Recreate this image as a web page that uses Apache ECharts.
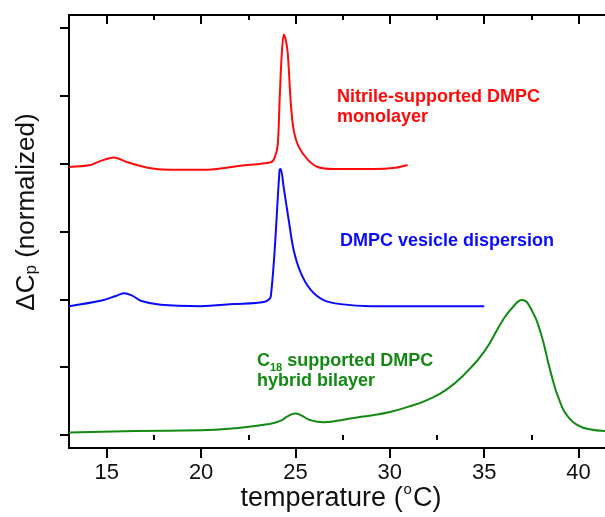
<!DOCTYPE html>
<html>
<head>
<meta charset="utf-8">
<script src="https://cdn.jsdelivr.net/npm/echarts@6/dist/echarts.min.js"></script>
<style>
  html, body { margin: 0; padding: 0; background: #fff; }
  #chart { width: 605px; height: 517px; }
</style>
</head>
<body>
<div id="chart"></div>
<script>
// DSC traces (temperature in °C, normalized ΔCp offset per trace)
const nitrileT  = [13.0, 14.15, 14.68, 15.37, 16.11, 17.17, 18.23, 20.35, 22.10, 23.69, 23.90, 24.06, 24.16, 24.27, 24.38, 24.48, 24.59, 24.75, 24.90, 25.17, 25.65, 26.18, 27.02, 29.14, 30.31, 30.94];
const nitrileCp = [3.95, 3.98, 4.04, 4.09, 4.02, 3.94, 3.91, 3.91, 3.97, 4.02, 4.09, 4.28, 4.94, 5.60, 5.90, 5.83, 5.63, 4.90, 4.50, 4.25, 4.06, 3.95, 3.92, 3.92, 3.94, 3.98];

const vesicleT  = [13.0, 14.68, 15.48, 15.90, 16.32, 16.80, 17.86, 19.98, 21.73, 23.32, 23.69, 24.16, 24.22, 24.37, 24.64, 24.90, 25.28, 25.81, 26.49, 27.39, 28.98, 35.0];
const vesicleCp = [1.90, 1.98, 2.05, 2.09, 2.06, 1.98, 1.92, 1.90, 1.93, 1.96, 2.04, 3.91, 3.92, 3.66, 3.17, 2.73, 2.39, 2.14, 1.99, 1.93, 1.90, 1.90];

const hybridT  = [13.0, 16.5, 20.0, 21.75, 23.5, 24.2, 24.6, 25.0, 25.3, 25.8, 26.5, 27.2, 28, 29, 30, 31, 32, 33, 34, 35, 36, 36.5, 37, 37.5, 38, 38.5, 39, 39.5, 40, 40.5, 41.4];
const hybridCp = [0.04, 0.06, 0.07, 0.10, 0.16, 0.21, 0.28, 0.32, 0.29, 0.22, 0.19, 0.21, 0.25, 0.29, 0.34, 0.42, 0.52, 0.67, 0.91, 1.23, 1.70, 1.88, 1.99, 1.85, 1.50, 0.95, 0.50, 0.25, 0.14, 0.09, 0.06];

// axis ticks
const xMajor = [15, 20, 25, 30, 35, 40];
const xMinor = [17.5, 22.5, 27.5, 32.5, 37.5];
const yTicks = [0, 1, 2, 3, 4, 5, 6];

const X_MIN = 13, X_MAX = 41.4;
const Y_MIN = -0.19, Y_MAX = 6.19;

function zip(a, b) { return a.map((v, i) => [v, b[i]]); }

const chart = echarts.init(document.getElementById('chart'));
const font = 'Liberation Sans, Arial, sans-serif';

function xAx(pos, ticks, len, inside, extra) {
  return Object.assign({
    type: 'value', position: pos, min: X_MIN, max: X_MAX,
    axisLine: { show: false },
    splitLine: { show: false },
    axisLabel: { show: false },
    axisTick: { show: true, inside: inside, length: len, customValues: ticks,
                lineStyle: { color: '#000', width: 2 } }
  }, extra || {});
}

chart.setOption({
  animation: false,
  grid: { left: 69, top: 15, right: 0, bottom: 69 },
  xAxis: [
    xAx('bottom', xMajor, 10, false, {
      axisLine: { show: true, onZero: false, lineStyle: { color: '#000', width: 2 } },
      axisLabel: { show: true, customValues: xMajor, margin: 14, color: '#111',
                   fontSize: 22, fontFamily: font }
    }),
    xAx('bottom', xMinor, 5, false),
    xAx('top', xMajor, 9, true, {
      axisLine: { show: true, onZero: false, lineStyle: { color: '#000', width: 2 } }
    }),
    xAx('top', xMinor, 5, true)
  ],
  yAxis: {
    type: 'value', min: Y_MIN, max: Y_MAX,
    axisLine: { show: true, onZero: false, lineStyle: { color: '#000', width: 2 } },
    splitLine: { show: false },
    axisLabel: { show: false },
    axisTick: { show: true, length: 9, customValues: yTicks, lineStyle: { color: '#000', width: 2 } }
  },
  series: [
    { name: 'Nitrile-supported DMPC monolayer', type: 'line', data: zip(nitrileT, nitrileCp),
      showSymbol: false, smooth: 0.3, lineStyle: { color: '#ff0a0a', width: 2 } },
    { name: 'DMPC vesicle dispersion', type: 'line', data: zip(vesicleT, vesicleCp),
      showSymbol: false, smooth: 0.3, lineStyle: { color: '#0a0aff', width: 2 } },
    { name: 'C18 supported DMPC hybrid bilayer', type: 'line', data: zip(hybridT, hybridCp),
      showSymbol: false, smooth: 0.5, lineStyle: { color: '#138a13', width: 2 } }
  ],
  graphic: [
    { type: 'text', left: 337, top: 87, style: {
        text: 'Nitrile-supported DMPC\nmonolayer', fill: '#ff0a0a',
        font: 'bold 18px ' + font, lineHeight: 20 } },
    { type: 'text', left: 340, top: 232, style: {
        text: 'DMPC vesicle dispersion', fill: '#0a0aff',
        font: 'bold 18px ' + font } },
    { type: 'text', left: 257, top: 352, style: {
        text: '{b|C}{s|18}{b| supported DMPC}\n{b|hybrid bilayer}', fill: '#138a13',
        rich: {
          b: { fontSize: 18, fontWeight: 'bold', fontFamily: font, lineHeight: 20, fill: '#138a13', verticalAlign: 'bottom' },
          s: { fontSize: 11, fontWeight: 'bold', fontFamily: font, lineHeight: 14, fill: '#138a13', verticalAlign: 'bottom', padding: [0, 0, -3, 0] }
        } } },
    { type: 'text', x: 341, y: 497, style: {
        text: '{n|temperature (}{u|o}{n|C)}', align: 'center', verticalAlign: 'middle',
        rich: {
          n: { fontSize: 27, fontFamily: font, fill: '#111', verticalAlign: 'bottom', lineHeight: 30 },
          u: { fontSize: 15, fontFamily: font, fill: '#111', verticalAlign: 'top', lineHeight: 30, padding: [0, 1, 0, 1] }
        } } },
    { type: 'text', x: 25, y: 212, rotation: Math.PI / 2, style: {
        text: '{n|ΔC}{s|p}{n| (normalized)}', align: 'center', verticalAlign: 'middle',
        rich: {
          n: { fontSize: 26, fontFamily: font, fill: '#111', verticalAlign: 'bottom', lineHeight: 30 },
          s: { fontSize: 17, fontFamily: font, fill: '#111', verticalAlign: 'bottom', lineHeight: 24 }
        } } }
  ]
});
</script>
</body>
</html>
